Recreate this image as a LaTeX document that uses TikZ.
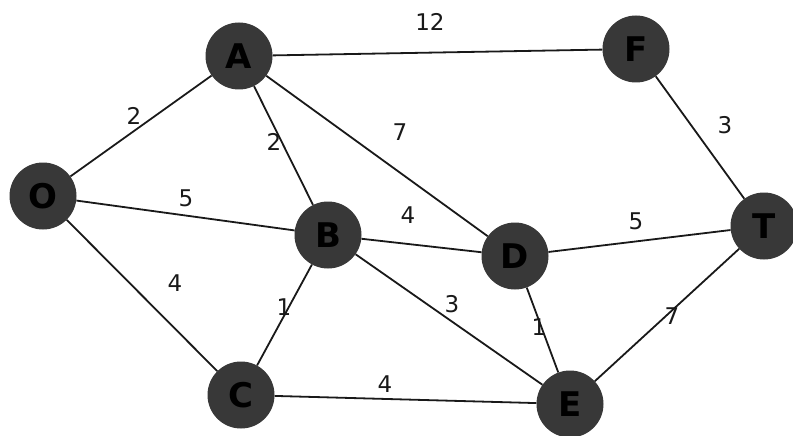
\documentclass[tikz,border=0pt]{standalone}
\usepackage{fontspec}
\setmainfont{DejaVu Sans}
\begin{document}
\begin{tikzpicture}[x=1pt,y=-1pt,
  vert/.style={circle,fill=black!78,minimum size=67pt,inner sep=0pt,font=\fontsize{34}{34}\selectfont\bfseries,text=black},
  edge/.style={line width=1.8pt,black!90},
  wlab/.style={font=\fontsize{23}{23}\selectfont,text=black!90,inner sep=0pt}]
\useasboundingbox (0,0) rectangle (793,436);
\fill[white] (0,0) rectangle (793,436);
\node[vert] (A) at (239,56) {A};
\node[vert] (F) at (636,49) {F};
\node[vert] (O) at (43,196) {O};
\node[vert] (B) at (328,235) {B};
\node[vert] (D) at (515,256) {D};
\node[vert] (T) at (764,226) {T};
\node[vert] (C) at (241,395) {C};
\node[vert] (E) at (570,404) {E};
\draw[edge] (A) -- (F);
\draw[edge] (O) -- (A);
\draw[edge] (A) -- (B);
\draw[edge] (A) -- (D);
\draw[edge] (F) -- (T);
\draw[edge] (O) -- (B);
\draw[edge] (B) -- (D);
\draw[edge] (D) -- (T);
\draw[edge] (O) -- (C);
\draw[edge] (B) -- (C);
\draw[edge] (B) -- (E);
\draw[edge] (D) -- (E);
\draw[edge] (E) -- (T);
\draw[edge] (C) -- (E);
\node[wlab] (l1) at (430,22) {12};
\node[wlab] (l2) at (134,116) {2};
\node[wlab] (l3) at (274,142) {2};
\node[wlab] (l4) at (400,132) {7};
\node[wlab] (l5) at (725,125) {3};
\node[wlab] (l6) at (186,198) {5};
\node[wlab] (l7) at (408,215) {4};
\node[wlab] (l8) at (636,221) {5};
\node[wlab] (l9) at (175,283) {4};
\node[wlab] (l10) at (284,307) {1};
\node[wlab] (l11) at (452,304) {3};
\node[wlab] (l12) at (539,327) {1};
\node[wlab] (l13) at (672,316) {7};
\node[wlab] (l14) at (385,384) {4};
\end{tikzpicture}
\end{document}
